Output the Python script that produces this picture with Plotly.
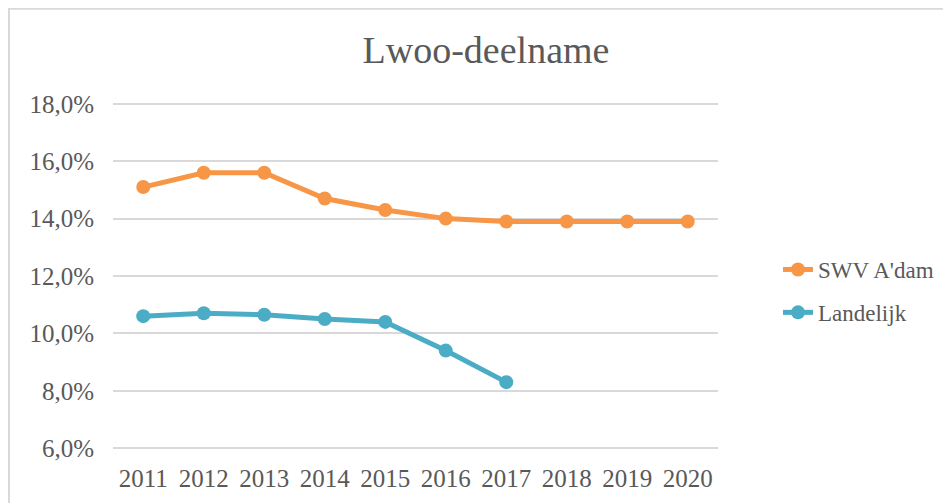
import plotly.graph_objects as go

years = ["2011", "2012", "2013", "2014", "2015", "2016", "2017", "2018", "2019", "2020"]
swv_adam = [15.1, 15.6, 15.6, 14.7, 14.3, 14.0, 13.9, 13.9, 13.9, 13.9]
landelijk_years = ["2011", "2012", "2013", "2014", "2015", "2016", "2017"]
landelijk = [10.6, 10.7, 10.65, 10.5, 10.4, 9.4, 8.3]
y_ticks = [6, 8, 10, 12, 14, 16, 18]
y_tick_labels = ["6,0%", "8,0%", "10,0%", "12,0%", "14,0%", "16,0%", "18,0%"]

FONT = "Liberation Serif"
TXT = "#595959"
GRID = "#d9d9d9"

fig = go.Figure()
fig.add_trace(go.Scatter(
    x=years, y=swv_adam, name="SWV A'dam", mode="lines+markers",
    line=dict(color="#F79646", width=5), marker=dict(size=14, color="#F79646"),
    legendgroup="a"))
fig.add_trace(go.Scatter(
    x=landelijk_years, y=landelijk, name="Landelijk", mode="lines+markers",
    line=dict(color="#4BACC6", width=5), marker=dict(size=14, color="#4BACC6"),
    legendgroup="b"))

OFF = 8  # page body margin
W, H = 951 - OFF, 503 - OFF
PAD = 0.1  # y-range padding in data units
PPU = (448 - 104) / 12.0
L, R = 113 - OFF, 718 - OFF
T, B = 104 - OFF - PAD * PPU, 448 - OFF + PAD * PPU

def px2x(px):
    return (px - OFF - L) / (R - L)

def px2y(py):
    return (B - (py - OFF)) / (B - T)

fig.update_layout(
    width=W, height=H,
    margin=dict(l=L, r=W - R, t=T, b=H - B),
    paper_bgcolor="white", plot_bgcolor="white",
    font=dict(family=FONT, color=TXT, size=23),
    title=dict(text="Lwoo-deelname", x=(486 - OFF) / W, xanchor="center",
               y=1 - (50 - OFF) / H, yanchor="middle",
               font=dict(family=FONT, size=38, color=TXT)),
    xaxis=dict(type="category", categoryorder="array", categoryarray=years,
               range=[-0.5, 9.5], showgrid=False, showline=False, zeroline=False,
               ticks="", tickfont=dict(size=25, color=TXT), ticklabelstandoff=10),
    yaxis=dict(range=[6 - PAD, 18 + PAD], tickvals=y_ticks, ticktext=y_tick_labels,
               showgrid=True, gridcolor=GRID, gridwidth=1.5, zeroline=False,
               showline=False, ticks="", tickfont=dict(size=25, color=TXT),
               ticklabelstandoff=18),
    legend=dict(x=px2x(778), xanchor="left", y=px2y(291), yanchor="middle",
                font=dict(size=23, color=TXT), traceorder="grouped", tracegroupgap=10,
                bgcolor="rgba(0,0,0,0)"),
    shapes=[dict(type="rect", xref="paper", yref="paper",
                 x0=px2x(OFF + 1), x1=px2x(970), y0=px2y(530), y1=px2y(OFF + 1),
                 line=dict(color=GRID, width=2), layer="below")],
)

fig.write_html("out.html")
